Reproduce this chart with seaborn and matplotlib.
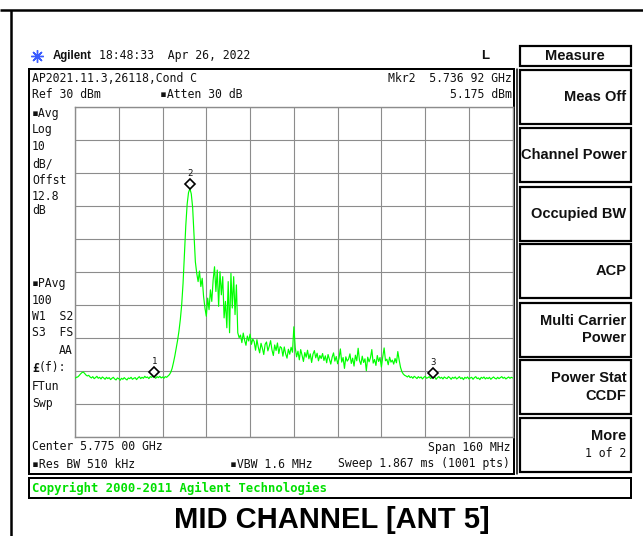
import numpy as np
import matplotlib
matplotlib.use("Agg")
import matplotlib.pyplot as plt
import matplotlib.transforms as mtransforms
from matplotlib.patches import Rectangle
import seaborn as sns

# ---- analyzer settings -------------------------------------------------
center_ghz = 5.775
span_mhz = 160
ref_level_dbm = 30
db_per_div = 10
n_div = 10

# ---- trace: averaged level (dBm), 0.5 MHz spacing across the span -------
trace_dbm = [
    -52.3, -52.0, -51.9, -51.5, -51.0, -50.6, -50.4, -50.8, -51.3, -51.6,
    -51.4, -51.9, -52.2, -51.8, -52.4, -52.1, -51.7, -52.3, -52.0, -52.5,
    -51.9, -52.2, -52.6, -52.0, -52.4, -52.1, -52.7, -52.3, -52.0, -52.5,
    -52.8, -52.2, -52.4, -52.9, -52.3, -52.6, -52.1, -52.5, -52.8, -52.2,
    -52.4, -52.0, -52.6, -52.3, -52.1, -52.7, -52.2, -51.8, -52.4, -52.0,
    -52.3, -51.7, -52.1, -51.9, -52.4, -51.8, -52.0, -51.6, -51.9, -52.3,
    -51.8, -52.1, -51.7, -52.2, -51.9, -52.3, -51.8, -52.0, -51.6,
    # carrier rise and peak
    -51.2, -50.5, -49.3, -47.5, -45.5, -43.2, -40.8, -38.0, -34.5, -30.0,
    -23.5, -14.5, -6.0, 0.5, 4.0, 5.175, 3.6, -0.5, -9.0, -17.0,
    # modulated shoulder
    -20.5, -23.0, -19.8, -24.5, -22.0, -27.5, -31.0, -33.5, -28.0, -31.5,
    -25.5, -29.0, -22.5, -18.5, -26.0, -19.5, -30.5, -20.0, -27.0, -21.5,
    -34.0, -29.0, -37.0, -23.0, -38.5, -20.5, -31.0, -21.5, -33.0, -24.0,
    -38.5, -40.0,
    # in-band plateau
    -39.2, -41.5, -38.6, -40.8, -42.3, -39.5, -41.0, -38.9, -42.0, -40.4,
    -41.2, -43.8, -40.6, -42.9, -44.6, -41.7, -43.2, -45.1, -42.0, -41.3,
    -44.0, -42.6, -40.9, -43.7, -45.4, -42.2, -43.9, -41.6, -44.8, -42.7,
    -43.1, -45.6, -42.8, -44.9, -46.2, -43.5, -45.0, -42.9, -44.4,
    -36.7,
    -43.0, -45.8, -44.1, -46.7, -43.6, -45.3, -47.2, -44.5, -45.9, -43.8,
    -46.4, -44.9, -47.5, -45.0, -43.9, -46.1, -44.7, -47.0, -45.4, -46.3,
    -44.8, -46.9, -45.5, -47.6, -45.1, -46.6, -48.0, -45.9, -44.6, -47.1,
    -45.7, -47.9, -46.3, -43.4, -47.4, -46.0, -49.3, -45.8, -47.1, -46.5,
    -44.9, -47.8, -46.2, -48.6, -45.3, -47.0, -43.2, -46.9, -48.1, -45.6,
    -47.5, -46.4, -50.0, -45.9, -47.3, -46.1, -43.6, -47.7, -46.6, -48.4,
    -45.4, -47.2, -46.0, -48.9, -45.8, -43.1, -47.0, -46.5, -48.2, -45.9,
    -47.4, -46.8, -48.0, -46.3, -47.6,
    -44.2, -46.8, -49.0, -50.3, -51.0, -51.4,
    # upper noise floor
    -51.6, -51.9, -51.5, -52.1, -51.8, -52.3, -51.7, -52.0, -52.4, -51.8,
    -52.2, -51.9, -52.5, -52.0, -51.7, -52.3, -52.1, -51.8, -52.4, -52.0,
    -52.2, -51.9, -52.6, -52.1, -51.8, -52.3, -52.0, -52.5, -51.9, -52.2,
    -52.4, -51.8, -52.1, -52.6, -52.0, -52.3, -51.9, -52.5, -52.2, -51.8,
    -52.4, -52.1, -52.7, -52.0, -52.3, -51.9, -52.5, -52.2, -52.0, -52.6,
    -52.1, -51.8, -52.4, -52.2, -52.7, -52.0, -52.3, -51.9, -52.5, -52.1,
    -52.4, -52.0, -52.6, -52.2, -51.9, -52.3, -52.5, -52.0, -52.4, -52.1,
    -51.8, -52.3, -52.0, -52.5, -52.2, -51.9, -52.3, -52.0, -52.2,
]

# ---- markers -------------------------------------------------------------
marker_ids = ["1", "2", "3"]
marker_freq_ghz = [5.724, 5.73692, 5.826]
marker_level_dbm = [-51.9, 5.175, -52.2]
active_marker = 1

# ---- annotation text -----------------------------------------------------
left_labels = [
    ("\u25aaAvg", 113), ("Log", 130), ("10", 147), ("dB/", 164),
    ("Offst", 181), ("12.8", 196), ("dB", 211),
    ("\u25aaPAvg", 284), ("100", 300), ("W1  S2", 316), ("S3  FS", 333),
    ("FTun", 386), ("Swp", 403),
]
softkeys = [
    ["Meas Off"], ["Channel Power"], ["Occupied BW"], ["ACP"],
    ["Multi Carrier", "Power"], ["Power Stat", "CCDF"], ["More", "1 of 2"],
]
title_text = "MID CHANNEL [ANT 5]"

# ---- figure ---------------------------------------------------------------
sns.set_style("white")
MONO = "DejaVu Sans Mono"
SANS = "Liberation Sans"
W, H = 643, 536
fig = plt.figure(figsize=(W / 100, H / 100), dpi=100)
fig.patch.set_facecolor("white")


def lw(pixels):
    return pixels * 72 / 100


bg = fig.add_axes([0, 0, 1, 1])
bg.set_xlim(0, W)
bg.set_ylim(H, 0)
bg.axis("off")

# page frame
bg.plot([0, W], [10, 10], color="black", lw=lw(2.5), solid_capstyle="butt")
bg.plot([10.5, 10.5], [10, H], color="black", lw=lw(2.5), solid_capstyle="butt")

# screen frame
bg.add_patch(Rectangle((29, 69), 485, 404.5, fill=False, ec="black", lw=lw(2)))
bg.plot([516.5, 516.5], [69, 473.5], color="black", lw=lw(1.5))

# header
bg.plot(37, 56, marker=(8, 2, 0), ms=9, color="#3a5cff", mew=1.0)
bg.plot(37, 56, marker="o", ms=2.5, color="#3a5cff")
bg.text(53, 56, "Agilent", family=SANS, weight="bold", fontsize=8.3,
        va="center", ha="left", color="#111111")
bg.text(99, 56, "18:48:33  Apr 26, 2022", family=MONO, fontsize=8.3,
        va="center", ha="left", color="#111111")
bg.text(485, 56, "L", family=SANS, weight="bold", fontsize=9.5,
        va="center", ha="center", color="#111111")

# softkey column
bg.add_patch(Rectangle((519.5, 46), 111, 20, fill=False, ec="black", lw=lw(2.2)))
bg.text(575, 56, "Measure", family=SANS, weight="bold", fontsize=10.5,
        va="center", ha="center", color="#111111")
key_tops = [70.3, 128.3, 186.7, 244.3, 302.7, 360, 417.7]
for top, lines in zip(key_tops, softkeys):
    bg.add_patch(Rectangle((519.5, top), 111, 54, fill=False, ec="black", lw=lw(2.2)))
    mid = top + 27
    if len(lines) == 1:
        bg.text(626.5, mid, lines[0], family=SANS, weight="bold", fontsize=10.5,
                va="center", ha="right", color="#111111")
    elif lines[0] == "More":
        bg.text(626.5, mid - 8.5, lines[0], family=SANS, weight="bold",
                fontsize=10.5, va="center", ha="right", color="#111111")
        bg.text(626.5, mid + 9, lines[1], family=MONO, fontsize=8.3,
                va="center", ha="right", color="#111111")
    else:
        bg.text(626.5, mid - 8.5, lines[0], family=SANS, weight="bold",
                fontsize=10.5, va="center", ha="right", color="#111111")
        bg.text(626.5, mid + 8.5, lines[1], family=SANS, weight="bold",
                fontsize=10.5, va="center", ha="right", color="#111111")

# readouts above the graticule
mk_f = marker_freq_ghz[active_marker]
mk_str = f"{mk_f:.5f}"
mk_str = mk_str[:5] + " " + mk_str[5:]
mono_kw = dict(family=MONO, fontsize=8.3, va="center", color="#111111")
bg.text(32, 79, "AP2021.11.3,26118,Cond C", ha="left", **mono_kw)
bg.text(511.5, 79, f"Mkr{marker_ids[active_marker]}  {mk_str} GHz", ha="right", **mono_kw)
bg.text(32, 95, f"Ref {ref_level_dbm} dBm", ha="left", **mono_kw)
bg.text(160, 95, "\u25aaAtten 30 dB", ha="left", **mono_kw)
bg.text(511.5, 95, f"{marker_level_dbm[active_marker]:.3f} dBm", ha="right", **mono_kw)

for txt, y in left_labels:
    bg.text(32, y, txt, ha="left", **mono_kw)
bg.text(73, 350, "AA", ha="right", **mono_kw)
bg.text(32, 368, "\u00a3", ha="left", family=MONO, weight="bold", fontsize=8.3,
        va="center", color="#111111")
bg.text(39, 368, "(f):", ha="left", **mono_kw)

# readouts below the graticule
bg.text(32, 447, f"Center {center_ghz:.3f} 00 GHz", ha="left", **mono_kw)
bg.text(510, 447, f"Span {span_mhz} MHz", ha="right", **mono_kw)
bg.text(32, 464, "\u25aaRes BW 510 kHz", ha="left", **mono_kw)
bg.text(230, 464, "\u25aaVBW 1.6 MHz", ha="left", **mono_kw)
bg.text(510, 464, "Sweep 1.867 ms (1001 pts)", ha="right", **mono_kw)

# copyright strip
bg.add_patch(Rectangle((29, 477.7), 602, 20.6, fill=False, ec="black", lw=lw(2)))
bg.text(32, 488, "Copyright 2000-2011 Agilent Technologies", family=MONO,
        weight="bold", fontsize=8.8, va="center", ha="left", color="#00e000")

# caption
bg.text(331.5, 520, title_text, family=SANS, weight="bold", fontsize=21,
        va="center", ha="center", color="black")

# ---- graticule + trace ----------------------------------------------------
gl, gr, gt, gb = 75, 512.7, 106.7, 436.7
ax = fig.add_axes([gl / W, 1 - gb / H, (gr - gl) / W, (gb - gt) / H])
f_start = center_ghz - span_mhz / 2000
f_stop = center_ghz + span_mhz / 2000
freqs = np.linspace(f_start, f_stop, len(trace_dbm))

sns.lineplot(x=freqs, y=trace_dbm, ax=ax, color="#00ff00", lw=0.85,
             errorbar=None, zorder=3)

ax.set_xlim(f_start, f_stop)
ax.set_ylim(ref_level_dbm - n_div * db_per_div, ref_level_dbm)
ax.set_xticks(np.linspace(f_start, f_stop, n_div + 1))
ax.set_yticks(np.arange(ref_level_dbm - n_div * db_per_div, ref_level_dbm + 1, db_per_div))
ax.tick_params(length=0, labelbottom=False, labelleft=False)
ax.set_xlabel("")
ax.set_ylabel("")
ax.grid(True, color="#8c8c8c", lw=0.8)
for sp in ax.spines.values():
    sp.set_color("#8c8c8c")
    sp.set_linewidth(1.0)
ax.set_facecolor("white")

# marker diamonds sit just above the trace point, with their number above
diamond_tr = mtransforms.offset_copy(ax.transData, fig=fig, x=0, y=4.5, units="dots")
label_tr = mtransforms.offset_copy(ax.transData, fig=fig, x=0, y=15, units="dots")
for mid, mf, ml in zip(marker_ids, marker_freq_ghz, marker_level_dbm):
    ax.plot(mf, ml, marker="D", ms=5.0, mfc="white", mec="black", mew=1.2,
            transform=diamond_tr, clip_on=False, zorder=6)
    ax.text(mf, ml, mid, transform=label_tr, ha="center", va="center",
            family=MONO, fontsize=6.5, color="#111111", zorder=6)

fig.savefig("out.png", dpi=100)
